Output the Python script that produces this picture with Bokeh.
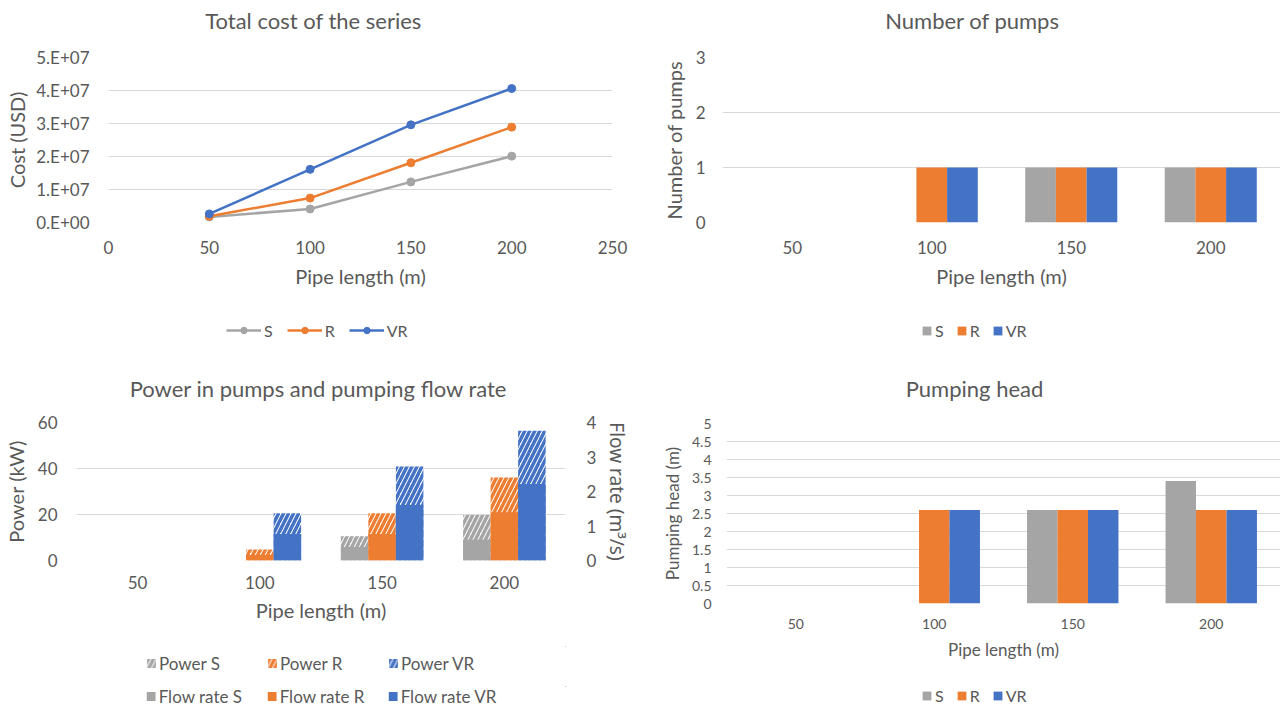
from bokeh.plotting import figure
from bokeh.models import (Range1d, FactorRange, LinearAxis, FixedTicker, CustomJSTickFormatter,
                          Legend, LegendItem, ColumnDataSource)
from bokeh.core.properties import value
from bokeh.transform import dodge
from bokeh.layouts import row, column
from bokeh.embed import file_html
from bokeh.resources import INLINE

# ---------------- data ----------------
lengths = [50, 100, 150, 200]
length_labels = ["50", "100", "150", "200"]
series = ["S", "R", "VR"]

cost_S = [1.7e6, 4.1e6, 1.23e7, 2.01e7]
cost_R = [1.9e6, 7.4e6, 1.81e7, 2.89e7]
cost_VR = [2.6e6, 1.61e7, 2.96e7, 4.06e7]
cost_ticks = [0, 1e7, 2e7, 3e7, 4e7, 5e7]
x_ticks = [0, 50, 100, 150, 200, 250]

pumps_S = [0, 0, 1, 1]
pumps_R = [0, 1, 1, 1]
pumps_VR = [0, 1, 1, 1]
pump_ticks = [0, 1, 2, 3]

power_S = [0, 0, 10.5, 19.8]
power_R = [0, 4.8, 20.5, 36.1]
power_VR = [0, 20.5, 40.9, 56.4]
flow_S = [0, 0, 0.39, 0.60]
flow_R = [0, 0.16, 0.77, 1.40]
flow_VR = [0, 0.77, 1.61, 2.22]
power_ticks = [0, 20, 40, 60]
flow_ticks = [0, 1, 2, 3, 4]

head_S = [0, 0, 2.6, 3.4]
head_R = [0, 2.6, 2.6, 2.6]
head_VR = [0, 2.6, 2.6, 2.6]
head_ticks = [0, 0.5, 1, 1.5, 2, 2.5, 3, 3.5, 4, 4.5, 5]
head_tick_labels = ["0", "0.5", "1", "1.5", "2", "2.5", "3", "3.5", "4", "4.5", "5"]

titles = ["Total cost of the series", "Number of pumps",
          "Power in pumps and pumping flow rate", "Pumping head"]

# ---------------- style ----------------
GRAY = "#A5A5A5"
ORANGE = "#ED7D31"
BLUE = "#4472C4"
TXT = "#595959"
GRID = "#D9D9D9"
FONT = "Lato"
colors = [GRAY, ORANGE, BLUE]
HATCH = dict(fill_color="white", line_color=None, hatch_pattern="right_diagonal_line",
             hatch_weight=3.5, hatch_scale=10)


def base(x_range, y_range, h, ml, mr, mt, mb):
    p = figure(width=640, height=h, x_range=x_range, y_range=y_range,
               output_backend="svg", toolbar_location=None,
               min_border_left=ml, min_border_right=mr, min_border_top=mt, min_border_bottom=mb)
    p.outline_line_color = None
    p.background_fill_color = "white"
    p.border_fill_color = "white"
    p.xgrid.grid_line_color = None
    p.ygrid.grid_line_color = GRID
    p.ygrid.grid_line_width = 1
    return p


def style_axis(ax, tick_size, label_size, label_standoff, axis_label_standoff, label_font=FONT):
    ax.axis_line_color = None
    ax.major_tick_line_color = None
    ax.minor_tick_line_color = None
    ax.major_tick_out = 0
    ax.major_tick_in = 0
    ax.minor_tick_out = 0
    ax.minor_tick_in = 0
    ax.major_label_text_font = FONT
    ax.major_label_text_font_size = tick_size
    ax.major_label_text_color = TXT
    ax.major_label_standoff = label_standoff
    ax.axis_label_text_font = label_font
    ax.axis_label_text_font_size = label_size
    ax.axis_label_text_font_style = "normal"
    ax.axis_label_text_color = TXT
    ax.axis_label_standoff = axis_label_standoff


def blank_fig(h, ml=0, mr=0, mt=0, mb=0, xr=(0, 640), yr=None):
    F = figure(width=640, height=h, x_range=Range1d(*xr),
               y_range=Range1d(*(yr if yr is not None else (0, h))),
               output_backend="svg", toolbar_location=None,
               x_axis_location=None, y_axis_location=None,
               min_border_left=ml, min_border_right=mr, min_border_top=mt, min_border_bottom=mb)
    F.grid.visible = False
    F.outline_line_color = None
    F.background_fill_color = "white"
    F.border_fill_color = "white"
    return F


def header(h, text, cx, cy_from_top, frame_l, frame_r, size="22px"):
    # the header's frame is aligned with the chart's frame below it, so its
    # x range is expressed in the panel's pixel coordinates
    H = blank_fig(h, xr=(frame_l, frame_r))
    H.text(x=[cx], y=[h - cy_from_top], text=[text], text_align="center",
           text_baseline="middle", text_font=value(FONT), text_font_size=size,
           text_color=TXT)
    return H


def legend_fig(h, mt=0):
    # legend holder: its ranges lie outside the data, so its glyphs only feed the legend
    return blank_fig(h, mt=mt, xr=(-2, -1), yr=(-2, -1))


def add_legend(L, items, loc, size, gw, gh, spacing=12, label_height=20, padding=2,
               label_width=0):
    lg = Legend(items=items, orientation="horizontal", location=loc,
                label_text_font=FONT, label_text_font_size=size, label_text_color=TXT,
                glyph_width=gw, glyph_height=gh, label_standoff=3, spacing=spacing,
                label_height=label_height, label_width=label_width, padding=padding, margin=0,
                border_line_color=None, background_fill_alpha=0)
    L.add_layout(lg)


def bar_legend_items(L, labels, arrays, hatch=False):
    items = []
    for lab, vals, c in zip(labels, arrays, colors):
        if hatch:
            r = L.vbar(x=lengths, top=vals, width=0, hatch_color=c, **HATCH)
        else:
            r = L.vbar(x=lengths, top=vals, width=0, fill_color=c, line_color=None)
        items.append(LegendItem(label=lab, renderers=[r]))
    return items


def grouped(p, arrays, width, hatch=False, y_range_name=None):
    offs = [-width, 0, width]
    for vals, c, o in zip(arrays, colors, offs):
        src = ColumnDataSource(dict(x=length_labels, top=vals))
        kw = {}
        if y_range_name is not None:
            kw["y_range_name"] = y_range_name
        if hatch:
            p.vbar(x=dodge("x", o, range=p.x_range), top="top", width=width, source=src,
                   hatch_color=c, **HATCH, **kw)
        else:
            p.vbar(x=dodge("x", o, range=p.x_range), top="top", width=width, source=src,
                   fill_color=c, line_color=None, **kw)


# ---------------- panel 1 : total cost ----------------
H1 = header(45, titles[0], 313, 20, 108, 612)
p1 = base(Range1d(0, 250), Range1d(0, 5e7), 255, 108, 28, 12, 78)
style_axis(p1.xaxis[0], "17px", "20px", 18, 7)
style_axis(p1.yaxis[0], "17px", "20px", 19, 4)
p1.xaxis[0].ticker = FixedTicker(ticks=x_ticks)
p1.yaxis[0].ticker = FixedTicker(ticks=cost_ticks)
p1.ygrid.ticker = FixedTicker(ticks=cost_ticks)
p1.yaxis[0].formatter = CustomJSTickFormatter(code="""
if (tick == 0) return '0.E+00';
const e = Math.floor(Math.log10(tick) + 1e-9);
const m = Math.round(tick / Math.pow(10, e));
return m + '.E+' + (e < 10 ? '0' + e : e);
""")
p1.xaxis[0].axis_label = "Pipe length (m)"
p1.yaxis[0].axis_label = "Cost (USD)"
cost_arrays = [cost_S, cost_R, cost_VR]
for vals, c in zip(cost_arrays, colors):
    src = ColumnDataSource(dict(x=lengths, y=vals))
    p1.line("x", "y", source=src, line_color=c, line_width=2.5)
    p1.scatter("x", "y", source=src, marker="circle", size=8, fill_color=c, line_color=c)

L1 = legend_fig(53)
items1 = []
for name, vals, c in zip(series, cost_arrays, colors):
    lr = L1.line(x=lengths, y=vals, line_color=c, line_width=2.5)
    sr = L1.scatter(x=lengths, y=vals, marker="circle", size=8, fill_color=c, line_color=c)
    items1.append(LegendItem(label=name, renderers=[lr, sr]))
add_legend(L1, items1, (118, 13), "16px", 35, 16, spacing=14)

# ---------------- panel 2 : number of pumps ----------------
H2 = header(45, titles[1], 332, 20, 82, 640)
p2 = base(FactorRange(*length_labels), Range1d(0, 3), 255, 82, 0, 12, 78)
style_axis(p2.xaxis[0], "17px", "20px", 18, 7)
style_axis(p2.yaxis[0], "17px", "20px", 17, 7)
p2.yaxis[0].ticker = FixedTicker(ticks=pump_ticks)
p2.ygrid.ticker = FixedTicker(ticks=pump_ticks)
p2.xaxis[0].axis_label = "Pipe length (m)"
p2.yaxis[0].axis_label = "Number of pumps"
pump_arrays = [pumps_S, pumps_R, pumps_VR]
grouped(p2, pump_arrays, 0.22)
L2 = legend_fig(53)
add_legend(L2, bar_legend_items(L2, series, pump_arrays), (199, 13), "16px", 11, 11)

# ---------------- panel 3 : power & flow ----------------
H3 = header(50, titles[2], 317, 35, 74, 565)
p3 = base(FactorRange(*length_labels), Range1d(0, 60), 225, 74, 75, 19, 68)
p3.extra_y_ranges = {"flow": Range1d(0, 4)}
style_axis(p3.xaxis[0], "17px", "20px", 15, 6)
style_axis(p3.yaxis[0], "17px", "20px", 19, 7)
p3.yaxis[0].ticker = FixedTicker(ticks=power_ticks)
p3.ygrid.ticker = FixedTicker(ticks=power_ticks)
p3.xaxis[0].axis_label = "Pipe length (m)"
p3.yaxis[0].axis_label = "Power (kW)"
rax = LinearAxis(y_range_name="flow", ticker=FixedTicker(ticks=flow_ticks),
                 axis_label="Flow rate (m³/s)")
style_axis(rax, "17px", "19px", 21, 5, label_font="Noto Sans")
p3.add_layout(rax, "right")
power_arrays = [power_S, power_R, power_VR]
flow_arrays = [flow_S, flow_R, flow_VR]
grouped(p3, power_arrays, 0.225, hatch=True)
grouped(p3, flow_arrays, 0.225, y_range_name="flow")
L3a = legend_fig(52, mt=18)
add_legend(L3a, bar_legend_items(L3a, ["Power " + n for n in series], power_arrays, hatch=True),
           "center", "17px", 11, 11, spacing=12, label_height=17, padding=0, label_width=95)
L3b = legend_fig(26, mt=6)
add_legend(L3b, bar_legend_items(L3b, ["Flow rate " + n for n in series], flow_arrays),
           "center", "17px", 11, 11, spacing=12, label_height=17, padding=0, label_width=95)

# ---------------- panel 4 : pumping head ----------------
H4 = header(50, titles[3], 334, 35, 86, 640)
p4 = base(FactorRange(*length_labels), Range1d(0, 5), 268, 86, 0, 20, 68)
style_axis(p4.xaxis[0], "14px", "17px", 15, 7)
style_axis(p4.yaxis[0], "14px", "17px", 15, 6)
p4.yaxis[0].ticker = FixedTicker(ticks=head_ticks)
p4.yaxis[0].major_label_overrides = dict(zip(head_ticks, head_tick_labels))
p4.ygrid.ticker = FixedTicker(ticks=head_ticks)
p4.xaxis[0].axis_label = "Pipe length (m)"
p4.yaxis[0].axis_label = "Pumping head (m)"
head_arrays = [head_S, head_R, head_VR]
grouped(p4, head_arrays, 0.22)
L4 = legend_fig(35)
add_legend(L4, bar_legend_items(L4, series, head_arrays), (195, 1), "16px", 11, 11,
           label_height=18, padding=2)

layout = column(row(column(H1, p1, L1), column(H2, p2, L2)),
                row(column(H3, p3, L3a, L3b), column(H4, p4, L4)))
open("out.html", "w").write(file_html(layout, INLINE))
